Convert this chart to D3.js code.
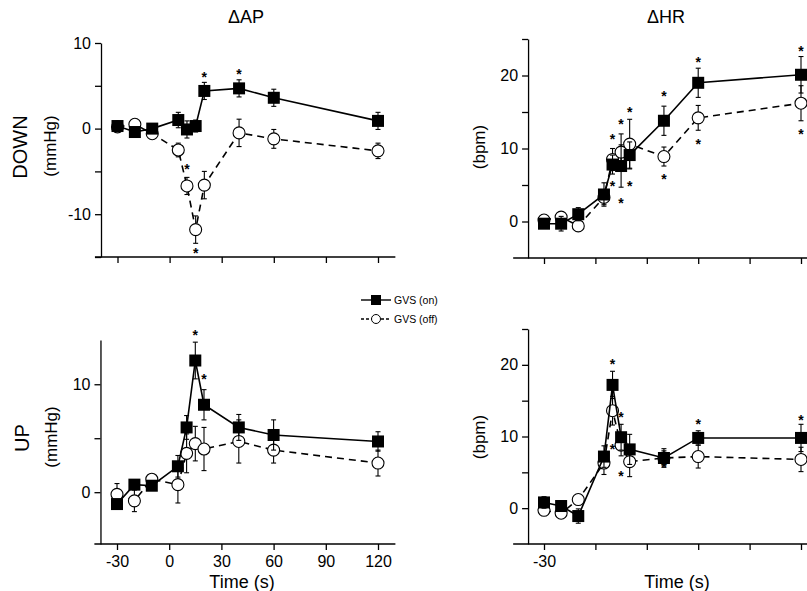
<!DOCTYPE html>
<html lang="en">
<head>
    <meta charset="UTF-8">
    <title>GVS AP / HR</title>
    <style>
        body { margin: 0; background: #fff; }
        svg { font-family: "Liberation Sans", Arial, sans-serif; }
        .axis path, .axis line { stroke: #000; stroke-width: 1.3; }
        .axis text { font-size: 16px; fill: #000; }
    </style>
</head>
<body>
    <div id="chart"></div>
    <script src="https://d3js.org/d3.v7.min.js"></script>
    <script>
        // time points (s)
        const times = [-30, -20, -10, 5, 10, 15, 20, 40, 60, 120];
        const xTicks = [-30, 0, 30, 60, 90, 120];

        // DOWN, delta AP (mmHg)
        const apDownOn     = [0.3, -0.4, 0.0, 1.0, -0.1, 0.3, 4.4, 4.7, 3.6, 0.9];
        const apDownOnErr  = [0.3, 0.3, 0.3, 0.9, 1.0, 0.7, 1.0, 1.0, 1.0, 1.0];
        const apDownOff    = [0.2, 0.5, -0.6, -2.5, -6.7, -11.8, -6.6, -0.5, -1.2, -2.6];
        const apDownOffErr = [0.3, 0.3, 0.3, 0.8, 1.0, 1.6, 1.6, 1.6, 1.1, 0.9];
        const apDownStars  = [[20, 6.4], [40, 6.7], [10, -4.4], [15, -14.2]];

        // DOWN, delta HR (bpm)
        const hrDownOn     = [-0.3, -0.3, 1.0, 3.7, 7.8, 7.6, 9.1, 13.8, 19.0, 20.1];
        const hrDownOnErr  = [0.4, 1.0, 0.9, 1.6, 1.3, 2.9, 1.8, 2.0, 2.0, 2.5];
        const hrDownOff    = [0.2, 0.6, -0.6, 3.3, 8.5, 9.5, 10.6, 8.9, 14.2, 16.2];
        const hrDownOffErr = [0.3, 0.3, 0.3, 1.0, 1.5, 2.5, 3.4, 1.3, 1.7, 2.4];
        const hrDownStars  = [[10, 11.7], [10, 5.3], [15, 13.8], [15, 3.0], [20, 15.4], [20, 5.3],
                              [40, 17.6], [40, 6.3], [60, 22.2], [60, 11.0], [120, 23.7], [120, 12.4]];

        // UP, delta AP (mmHg)
        const apUpOn     = [-1.1, 0.7, 0.6, 2.4, 6.0, 12.2, 8.1, 6.0, 5.3, 4.7];
        const apUpOnErr  = [0.3, 0.3, 0.3, 1.0, 1.1, 1.7, 1.4, 1.2, 1.4, 0.9];
        const apUpOff    = [-0.2, -0.8, 1.2, 0.7, 3.6, 4.5, 4.0, 4.7, 3.9, 2.7];
        const apUpOffErr = [1.0, 1.0, 0.4, 1.7, 1.8, 1.6, 2.0, 2.0, 1.2, 1.2];
        const apUpStars  = [[15, 14.8], [20, 10.8]];

        // UP, delta HR (bpm)
        const hrUpOn     = [0.8, 0.3, -1.1, 7.2, 17.2, 9.9, 8.2, 7.0, 9.8, 9.8];
        const hrUpOnErr  = [0.8, 0.5, 1.0, 1.5, 1.9, 1.8, 2.1, 1.3, 1.0, 1.9];
        const hrUpOff    = [-0.3, -0.7, 1.2, 6.3, 13.6, 8.8, 6.5, 7.0, 7.2, 6.8];
        const hrUpOffErr = [0.5, 0.5, 0.5, 1.6, 2.0, 1.5, 2.1, 1.0, 1.6, 1.7];
        const hrUpStars  = [[10, 20.6], [15, 13.1], [10, 8.7], [15, 4.9], [40, 6.2], [60, 12.1], [120, 12.7]];

        const W = 807, H = 591;
        const svg = d3.select("#chart").append("svg")
            .attr("width", W)
            .attr("height", H);

        const panels = [
            { on: apDownOn, onErr: apDownOnErr, off: apDownOff, offErr: apDownOffErr, stars: apDownStars,
              xr: [117.5, 378], yd: [-15, 10], yr: [257, 43], yTicks: [-15, -10, -5, 0, 5, 10], yLab: [-10, 0, 10],
              xLab: [], xLo: -43, xHi: 130, yAx: -39.5 },
            { on: hrDownOn, onErr: hrDownOnErr, off: hrDownOff, offErr: hrDownOffErr, stars: hrDownStars,
              xr: [544, 801], yd: [-5, 25], yr: [258, 39], yTicks: [0, 5, 10, 15, 20, 25], yLab: [0, 10, 20],
              xLab: [], xLo: -48, xHi: 135, yAx: -39.3 },
            { on: apUpOn, onErr: apUpOnErr, off: apUpOff, offErr: apUpOffErr, stars: apUpStars,
              xr: [117, 378], yd: [-4.8, 14.1], yr: [544, 340], yTicks: [0, 5, 10], yLab: [0, 10],
              xLab: xTicks, xLo: -43, xHi: 130, yAx: -39.5 },
            { on: hrUpOn, onErr: hrUpOnErr, off: hrUpOff, offErr: hrUpOffErr, stars: hrUpStars,
              xr: [544, 801], yd: [-5, 25], yr: [544, 329], yTicks: [0, 5, 10, 15, 20, 25], yLab: [0, 10, 20],
              xLab: [-30], xLo: -48, xHi: 135, yAx: -39.3 }
        ];

        panels.forEach(p => {
            const x = d3.scaleLinear().domain([-30, 120]).range(p.xr);
            const y = d3.scaleLinear().domain(p.yd).range(p.yr);
            const g = svg.append("g");
            const yBase = p.yr[0];

            // x axis
            const xa = g.append("g")
                .attr("class", "axis")
                .attr("transform", "translate(0," + yBase + ")")
                .call(d3.axisBottom(x).tickValues(xTicks).tickSize(6).tickPadding(6)
                    .tickFormat(d => p.xLab.includes(d) ? d : ""));
            xa.select(".domain").remove();
            xa.append("line")
                .attr("x1", x(p.xLo)).attr("x2", x(p.xHi))
                .attr("y1", 0).attr("y2", 0);

            // y axis
            g.append("g")
                .attr("class", "axis")
                .attr("transform", "translate(" + x(p.yAx) + ",0)")
                .call(d3.axisLeft(y).tickValues(p.yTicks).tickSize(6).tickSizeOuter(0).tickPadding(4)
                    .tickFormat(d => p.yLab.includes(d) ? d : ""));

            const lineGen = d3.line().x(d => x(d[0])).y(d => y(d[1]));

            // GVS off first (dashed, open circles), then GVS on (solid, filled squares)
            const offPts = times.map((t, i) => [t, p.off[i], p.offErr[i]]);
            const onPts = times.map((t, i) => [t, p.on[i], p.onErr[i]]);

            [offPts, onPts].forEach((pts, k) => {
                const errG = g.append("g").attr("stroke", "#000").attr("stroke-width", 1.1);
                pts.forEach(d => {
                    errG.append("line")
                        .attr("x1", x(d[0])).attr("x2", x(d[0]))
                        .attr("y1", y(d[1] - d[2])).attr("y2", y(d[1] + d[2]));
                    [d[1] - d[2], d[1] + d[2]].forEach(v => {
                        errG.append("line")
                            .attr("x1", x(d[0]) - 2.5).attr("x2", x(d[0]) + 2.5)
                            .attr("y1", y(v)).attr("y2", y(v));
                    });
                });
                g.append("path")
                    .datum(pts)
                    .attr("d", lineGen)
                    .attr("fill", "none")
                    .attr("stroke", "#000")
                    .attr("stroke-width", 1.6)
                    .attr("stroke-dasharray", k === 0 ? "7,5" : null);
                if (k === 0) {
                    g.selectAll(null).data(pts).enter().append("circle")
                        .attr("cx", d => x(d[0]))
                        .attr("cy", d => y(d[1]))
                        .attr("r", 6)
                        .attr("fill", "#fff")
                        .attr("stroke", "#000")
                        .attr("stroke-width", 1.1);
                } else {
                    g.selectAll(null).data(pts).enter().append("rect")
                        .attr("x", d => x(d[0]) - 6)
                        .attr("y", d => y(d[1]) - 6)
                        .attr("width", 12)
                        .attr("height", 12)
                        .attr("fill", "#000");
                }
            });

            // significance marks
            g.selectAll(null).data(p.stars).enter().append("text")
                .attr("x", d => x(d[0]))
                .attr("y", d => y(d[1]) + 8)
                .attr("text-anchor", "middle")
                .style("font-size", "14px")
                .style("font-weight", "bold")
                .text("*");
        });

        // titles
        svg.append("text").attr("x", 246).attr("y", 23).attr("text-anchor", "middle")
            .style("font-size", "18px").text("\u0394AP");
        svg.append("text").attr("x", 666).attr("y", 23).attr("text-anchor", "middle")
            .style("font-size", "18px").text("\u0394HR");

        // row labels
        const rowLabel = (txt, cx, cy, size) => {
            svg.append("text")
                .attr("transform", "translate(" + cx + "," + cy + ") rotate(-90)")
                .attr("text-anchor", "middle")
                .attr("dy", "0.35em")
                .style("font-size", size + "px")
                .text(txt);
        };
        rowLabel("DOWN", 20, 147, 20);
        rowLabel("(mmHg)", 50, 146, 17);
        rowLabel("UP", 22, 438, 20);
        rowLabel("(mmHg)", 51, 437, 17);
        rowLabel("(bpm)", 479, 147, 17);
        rowLabel("(bpm)", 479, 437, 17);

        // x titles
        svg.append("text").attr("x", 242).attr("y", 588).attr("text-anchor", "middle")
            .style("font-size", "18px").text("Time (s)");
        svg.append("text").attr("x", 677).attr("y", 588).attr("text-anchor", "middle")
            .style("font-size", "18px").text("Time (s)");

        // legend
        const legend = svg.append("g").attr("transform", "translate(361,300)");
        [{ label: "GVS (on)", dash: null, sq: true }, { label: "GVS (off)", dash: "3,2", sq: false }].forEach((d, i) => {
            const row = legend.append("g").attr("transform", "translate(0," + i * 19 + ")");
            row.append("line").attr("x1", 0).attr("x2", 30).attr("y1", 0).attr("y2", 0)
                .attr("stroke", "#000").attr("stroke-width", 1.4).attr("stroke-dasharray", d.dash);
            if (d.sq) {
                row.append("rect").attr("x", 10).attr("y", -5).attr("width", 10).attr("height", 10).attr("fill", "#000");
            } else {
                row.append("circle").attr("cx", 15).attr("cy", 0).attr("r", 4.5)
                    .attr("fill", "#fff").attr("stroke", "#000").attr("stroke-width", 1);
            }
            row.append("text").attr("x", 33).attr("y", 0).attr("dy", "0.35em")
                .style("font-size", "10.5px").text(d.label);
        });
    </script>
</body>
</html>
